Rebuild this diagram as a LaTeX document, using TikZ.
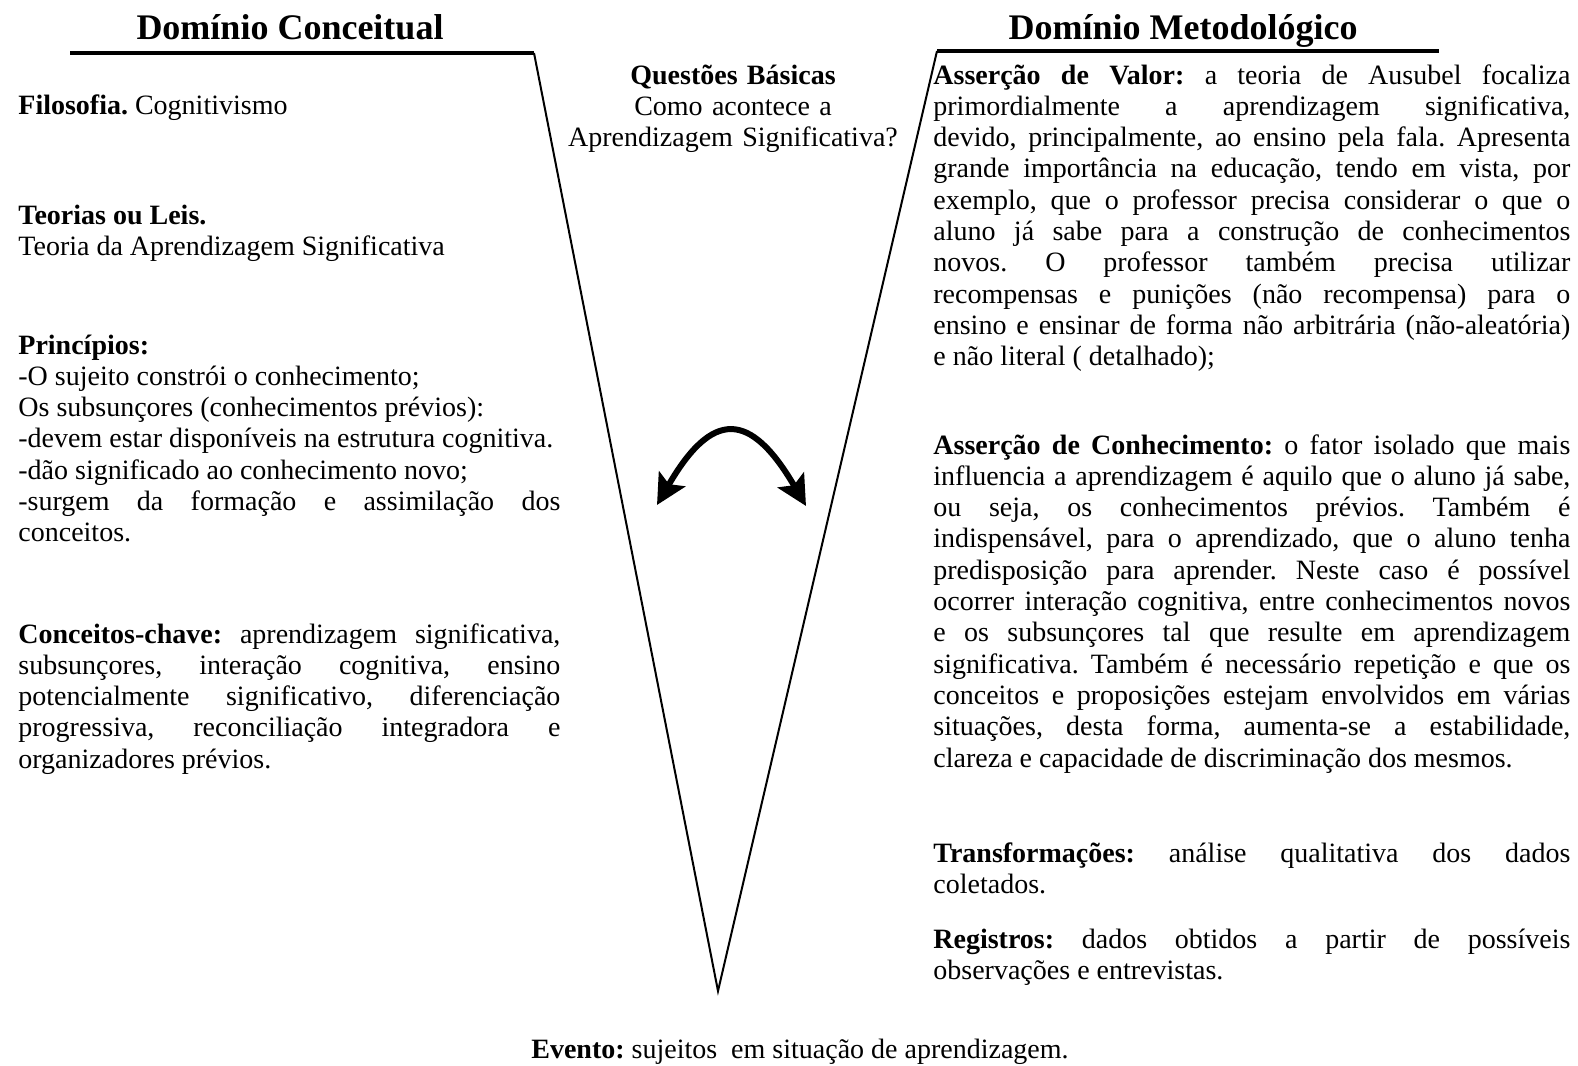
\documentclass[tikz,border=0pt]{standalone}
\usepackage{fontspec}
\setmainfont{Liberation Serif}
\usetikzlibrary{arrows.meta}
\tolerance=10000
\hbadness=10000
\frenchspacing
\setlength{\parindent}{0pt}

\begin{document}
\begin{tikzpicture}[x=0.5pt,y=-0.5pt,
    domtitle/.style={font=\fontsize{18}{21}\selectfont\bfseries,inner sep=0pt,anchor=base},
    lefttxt/.style={font=\fontsize{14}{15.65}\selectfont,inner sep=0pt,anchor=base west,
      text width=271pt,align=justify},
    righttxt/.style={lefttxt,text width=318.5pt},
    midtxt/.style={font=\fontsize{14}{15.65}\selectfont,inner sep=0pt,anchor=base,
      text width=190pt,align=center},
    bar/.style={line width=1.7pt},
    vline/.style={line width=1pt}]
        \useasboundingbox (0,0) rectangle (1578,1065);
        \fill[white] (0,0) rectangle (1578,1065);
        % the V
        \coordinate (lbarL) at (70,53);
        \coordinate (lbarR) at (534,53);
        \coordinate (rbarL) at (937,51);
        \coordinate (rbarR) at (1439,51);
        \coordinate (tip) at (718,991);
        \draw[bar] (lbarL) -- (lbarR);
        \draw[bar] (rbarL) -- (rbarR);
        \draw[vline] (lbarR) -- (tip) -- (rbarL);
        % titles
        \node[domtitle] (concT) at (290,40) {Domínio Conceitual};
        \node[domtitle] (metoT) at (1183,40) {Domínio Metodológico};
        % central question
        \node[midtxt] (quest) at (733,84) {\textbf{Questões Básicas}\\Como acontece a\\Aprendizagem Significativa?};
        % left column
        \node[lefttxt] (filo) at (18,115) {\textbf{Filosofia.} Cognitivismo};
        \node[lefttxt] (teor) at (18,224) {\textbf{Teorias ou Leis.}\\Teoria da Aprendizagem Significativa};
        \node[lefttxt] (princ) at (18,354) {\textbf{Princípios:}\\-O sujeito constrói o conhecimento;\\
          Os subsunçores (conhecimentos prévios):\\-devem estar disponíveis na estrutura cognitiva.\\
          -dão significado ao conhecimento novo;\\-surgem da formação e assimilação dos\linebreak conceitos.};
        \node[lefttxt] (chave) at (18,643) {\textbf{Conceitos-chave:} aprendizagem significativa,\linebreak
          subsunçores, interação cognitiva, ensino\linebreak
          potencialmente significativo, diferenciação\linebreak
          progressiva, reconciliação integradora e\linebreak
          organizadores prévios.};
        % right column
        \node[righttxt] (valor) at (933,84) {\textbf{Asserção de Valor:} a teoria de Ausubel focaliza\linebreak
          primordialmente a aprendizagem significativa,\linebreak
          devido, principalmente, ao ensino pela fala. Apresenta\linebreak
          grande importância na educação, tendo em vista, por\linebreak
          exemplo, que o professor precisa considerar o que o\linebreak
          aluno já sabe para a construção de conhecimentos\linebreak
          novos. O professor também precisa utilizar\linebreak
          recompensas e punições (não recompensa) para o\linebreak
          ensino e ensinar de forma não arbitrária (não-aleatória)\linebreak
          e não literal ( detalhado);};
        \node[righttxt] (conhec) at (933,454) {\textbf{Asserção de Conhecimento:} o fator isolado que mais\linebreak
          influencia a aprendizagem é aquilo que o aluno já sabe,\linebreak
          ou seja, os conhecimentos prévios. Também é\linebreak
          indispensável, para o aprendizado, que o aluno tenha\linebreak
          predisposição para aprender. Neste caso é possível\linebreak
          ocorrer interação cognitiva, entre conhecimentos novos\linebreak
          e os subsunçores tal que resulte em aprendizagem\linebreak
          significativa. Também é necessário repetição e que os\linebreak
          conceitos e proposições estejam envolvidos em várias\linebreak
          situações, desta forma, aumenta-se a estabilidade,\linebreak
          clareza e capacidade de discriminação dos mesmos.};
        \node[righttxt] (transf) at (933,862) {\textbf{Transformações:} análise qualitativa dos dados\linebreak coletados.};
        \node[righttxt] (regis) at (933,948) {\textbf{Registros:} dados obtidos a partir de possíveis\linebreak observações e entrevistas.};
        % event
        \node[font=\fontsize{14}{15.65}\selectfont,inner sep=0pt,anchor=base] (evento) at (800,1058)
          {\textbf{Evento:} sujeitos\ \ em situação de aprendizagem.};
        % double arrow
        \coordinate (arrL) at (657,505);
        \coordinate (arrR) at (806,506);
        \draw[line width=3pt,{Stealth[length=15pt,width=15pt,inset=3pt]}-{Stealth[length=15pt,width=15pt,inset=3pt]}]
          (arrL) .. controls (712,410) and (750,410) .. (arrR);
      \end{tikzpicture}
\end{document}
